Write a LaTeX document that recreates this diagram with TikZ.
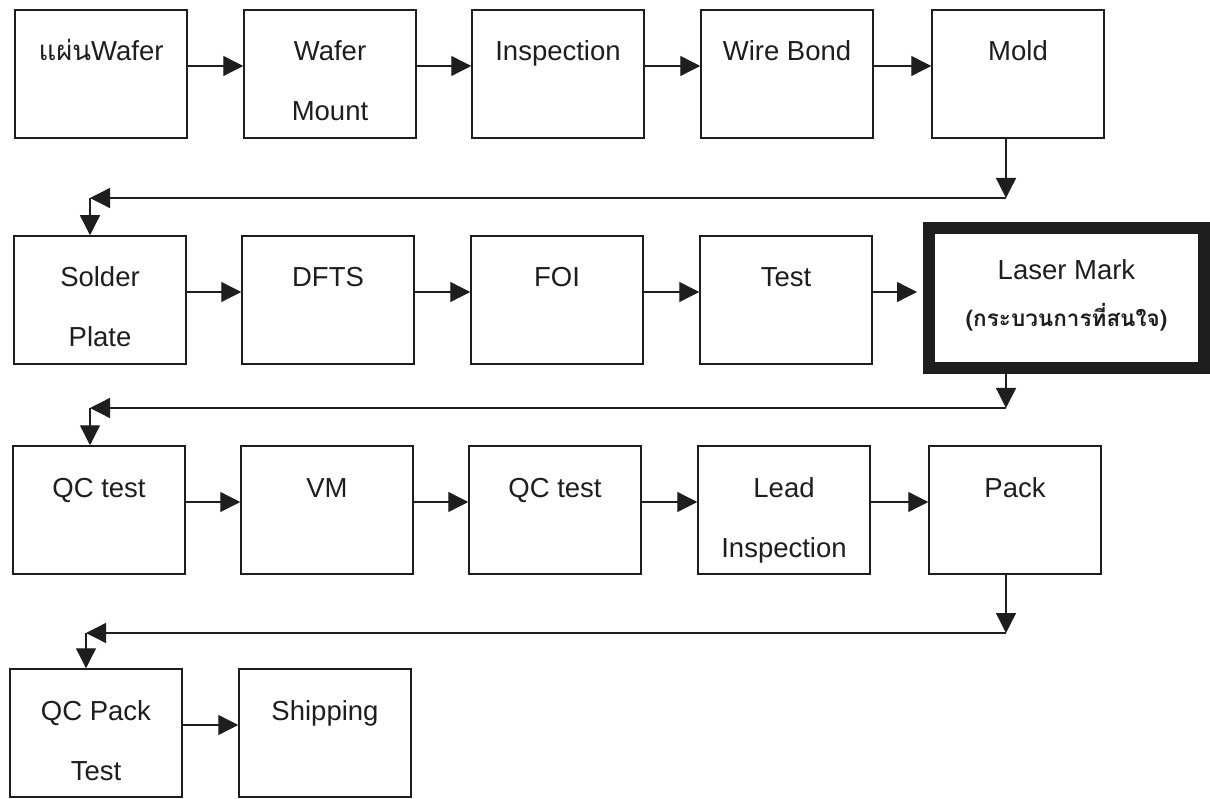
\documentclass[tikz,border=0pt]{standalone}
\usepackage{fontspec}
\setmainfont{Liberation Sans}
\newfontfamily\thaifont[Script=Thai]{Loma}
\usetikzlibrary{arrows.meta}
\definecolor{ink}{HTML}{1E1E1E}
\newcommand{\proc}[1]{\parbox[c][118pt][t]{168pt}{\centering\rule{0pt}{46pt}#1}}
\tikzset{
  procbox/.style={draw=ink, line width=1.5pt, minimum width=172pt, minimum height=128pt,
    inner sep=0pt, text=ink, font=\fontsize{27.5pt}{60pt}\selectfont},
  keybox/.style={procbox, line width=12pt, minimum width=275pt, minimum height=140pt},
  flow/.style={draw=ink, line width=1.3pt, -{Triangle[length=20pt,width=20pt]}}
}
\begin{document}
\begin{tikzpicture}[x=1pt, y=-1pt]
    \fill[white] (0, 0) rectangle (1210, 799);
    \useasboundingbox (0, 0) rectangle (1210, 799);

    % first row
    \node[procbox] (wafer)   at (101, 74)  {\proc{{\thaifont แผ่น}Wafer}};
    \node[procbox] (mount)   at (330, 74)  {\proc{Wafer\\Mount}};
    \node[procbox] (inspect) at (558, 74)  {\proc{Inspection}};
    \node[procbox] (bond)    at (787, 74)  {\proc{Wire Bond}};
    \node[procbox] (mold)    at (1018, 74) {\proc{Mold}};

    % second row
    \node[procbox] (solder) at (100, 300) {\proc{Solder\\Plate}};
    \node[procbox] (dfts)   at (328, 300) {\proc{DFTS}};
    \node[procbox] (foi)    at (557, 300) {\proc{FOI}};
    \node[procbox] (test)   at (786, 300) {\proc{Test}};
    \node[keybox]  (laser)  at (1066.5, 298) {\parbox[c][128pt][t]{260pt}{\centering
        \rule{0pt}{46pt}Laser Mark\\[-13pt]
        {\thaifont\bfseries\fontsize{22.5pt}{26pt}\selectfont (กระบวนการที่สนใจ)}}};

    % third row
    \node[procbox] (qca)  at (99, 510)   {\proc{QC test}};
    \node[procbox] (vm)   at (327, 510)  {\proc{VM}};
    \node[procbox] (qcb)  at (555, 510)  {\proc{QC test}};
    \node[procbox] (lead) at (784, 510)  {\proc{Lead\\Inspection}};
    \node[procbox] (pack) at (1015, 510) {\proc{Pack}};

    % fourth row
    \node[procbox] (qcpack) at (96, 733)  {\proc{QC Pack\\Test}};
    \node[procbox] (ship)   at (325, 733) {\proc{Shipping}};

    % arrows along the rows
    \foreach \a/\b in {wafer/mount, mount/inspect, inspect/bond, bond/mold,
                       solder/dfts, dfts/foi, foi/test,
                       qca/vm, vm/qcb, qcb/lead, lead/pack, qcpack/ship} {
        \draw[flow] ([yshift=8pt]\a.east) -- ([yshift=8pt]\b.west);
    }
    \path (laser.west) ++(-6pt, 0) coordinate (laserin);
    \draw[flow] ([yshift=8pt]test.east) -- ([yshift=8pt]test.east -| laserin);

    % arrows back to the next row
    \coordinate (turna) at (1006, 198);
    \coordinate (turnb) at (90, 198);
    \draw[flow] (mold.south -| turna) -- (turna);
    \draw[flow] (turna) -- (turnb);
    \draw[flow] (turnb) -- (turnb |- solder.north);

    \coordinate (turnc) at (1006, 408);
    \coordinate (turnd) at (90, 408);
    \draw[flow] (laser.south -| turnc) -- (turnc);
    \draw[flow] (turnc) -- (turnd);
    \draw[flow] (turnd) -- (turnd |- qca.north);

    \coordinate (turne) at (1006, 633);
    \coordinate (turnf) at (86, 633);
    \draw[flow] (pack.south -| turne) -- (turne);
    \draw[flow] (turne) -- (turnf);
    \draw[flow] (turnf) -- (turnf |- qcpack.north);
\end{tikzpicture}
\end{document}
